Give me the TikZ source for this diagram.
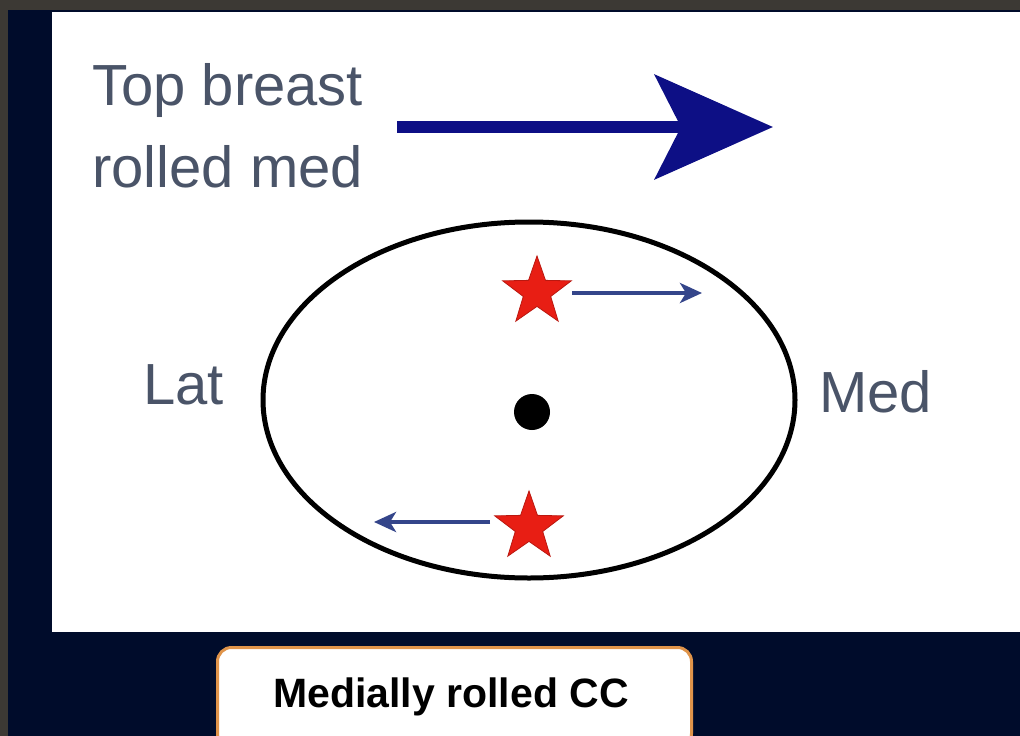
\documentclass[tikz,border=0pt]{standalone}
\usepackage{fontspec}
\setmainfont{Liberation Sans}
\usetikzlibrary{shapes.geometric,arrows.meta}
\definecolor{frame}{HTML}{3C3934}
\definecolor{navybg}{HTML}{000C2B}
\definecolor{txtgrey}{HTML}{4A5468}
\definecolor{arrowblue}{HTML}{0D0F85}
\definecolor{smallarrow}{HTML}{34458A}
\definecolor{starred}{HTML}{E81E14}
\definecolor{boxorange}{HTML}{E0944A}
\tikzset{
  lbl/.style={font=\fontsize{58}{70}\selectfont, text=txtgrey, inner sep=0pt, anchor=base west},
  redstar/.style={star, star points=5, star point ratio=2.5, fill=starred, draw=starred!80!black, line width=0.8pt, minimum size=72pt, inner sep=0pt},
  thinarrow/.style={draw=smallarrow, line width=4pt, -{Stealth[length=22pt,width=20pt,inset=6pt]}}
}
\begin{document}
\begin{tikzpicture}[x=1pt,y=-1pt]
\useasboundingbox (0,0) rectangle (1020,736);
\fill[frame] (0,0) rectangle (1020,736);
\fill[navybg] (8,10) rectangle (1020,736);
\fill[white] (52,12) rectangle (1020,632);
% title text
\node[lbl] (t1) at (92,105) {Top breast};
\node[lbl] (t2) at (92,187) {rolled med};
% big arrow
\coordinate (a0) at (397,127);
\coordinate (a1) at (773,127);
\draw[arrowblue, line width=12pt, -{Stealth[length=118pt,width=104pt,inset=26pt]}] (a0) -- (a1);
% ellipse
\node[ellipse, draw=black, line width=5pt, minimum width=532pt, minimum height=356pt, inner sep=0pt] (ell) at (529,400) {};
\node[circle, fill=black, minimum size=36pt, inner sep=0pt] (dot) at (532,412) {};
% stars and arrows
\node[redstar] (s1) at (537,292) {};
\node[redstar] (s2) at (529,527) {};
\coordinate (b1) at (572,293);
\coordinate (e1) at (702,293);
\coordinate (b2) at (490,522);
\coordinate (e2) at (374,522);
\draw[thinarrow] (b1) -- (e1);
\draw[thinarrow] (b2) -- (e2);
% side labels
\node[lbl] (lat) at (143,404) {Lat};
\node[lbl] (med) at (819,412) {Med};
% bottom box
\node[draw=boxorange, line width=3pt, fill=white, rounded corners=14pt, minimum width=474pt, minimum height=100pt, inner sep=0pt, anchor=north west] (box) at (216,646) {};
\node[font=\bfseries\fontsize{41}{47}\selectfont, text=black, inner sep=0pt, anchor=base] (cap) at (451,707) {Medially rolled CC};
\end{tikzpicture}
\end{document}
